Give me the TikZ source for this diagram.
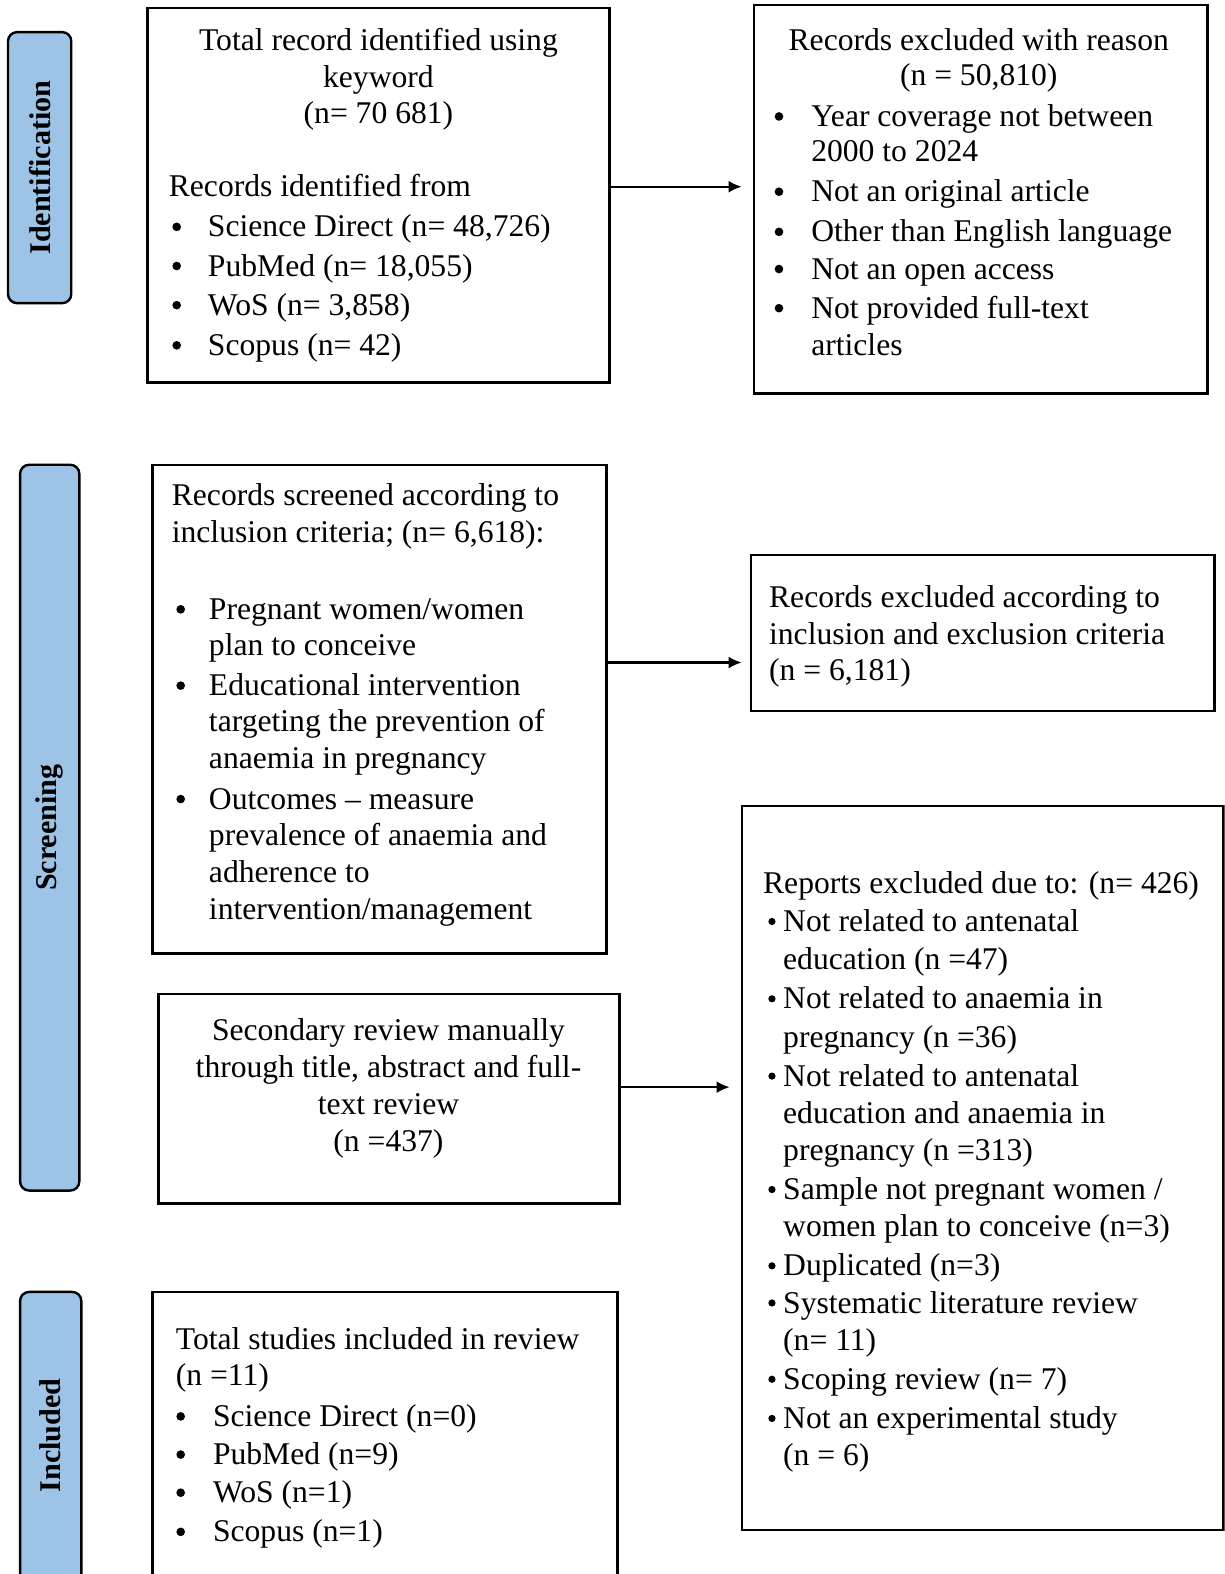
\documentclass[tikz,border=0pt]{standalone}
\usepackage{fontspec}
\setmainfont{Liberation Serif}
\usetikzlibrary{arrows.meta,fit}
\definecolor{phase}{HTML}{9DC3E6}
\newcounter{tn}
\newcommand\tl[4][txt]{\stepcounter{tn}\node[#1] (t\arabic{tn}) at (#2,#3) {#4};}
\newcommand\bu[3]{\fill (#1,#2) circle (#3pt);}
\begin{document}
\begin{tikzpicture}[x=1pt,y=-1pt,
 box/.style={draw, line width=2.4pt, inner sep=0pt},
 phasebox/.style={draw, line width=2.4pt, fill=phase, rounded corners=9pt, inner sep=0pt},
 txt/.style={anchor=base west, inner sep=0pt, font=\fontsize{31.5}{37}\selectfont},
 ctxt/.style={txt, anchor=base},
 plabel/.style={rotate=90, font=\fontsize{30}{36}\selectfont\bfseries, inner sep=0pt},
 arr/.style={line width=2.2pt, -{Latex[length=13pt,width=12pt]}}]
\useasboundingbox (0,0) rectangle (1220,1568);
\clip (0,0) rectangle (1220,1568);

% phase boxes
\node[phasebox, fit={(8,32) (71,302)}] (P1) {};
\node[plabel] (L1) at (P1.center) {Identification};
\node[phasebox, fit={(20,463) (79,1186)}] (P2) {};
\node[plabel] (L2) at (P2.center) {Screening};
\node[phasebox, fit={(20,1287) (81,1620)}] (P3) {};
\node[plabel] (L3) at (50.5,1430) {Included};

% Box A
\node[box, fit={(147,8) (607,381)}] (A) {};
\tl[ctxt]{377}{50}{Total record identified using}
\tl[ctxt]{377}{87}{keyword}
\tl[ctxt]{377}{123}{(n= 70 681)}
\tl{168}{196}{Records identified from}
\bu{176}{226}{4.3}\tl{207}{236}{Science Direct (n= 48,726)}
\bu{176}{265}{4.3}\tl{207}{275}{PubMed (n= 18,055)}
\bu{176}{304}{4.3}\tl{207}{314}{WoS (n= 3,858)}
\bu{176}{344}{4.3}\tl{207}{354}{Scopus (n= 42)}

% Box B
\node[box, fit={(751,5) (1203,392)}] (B) {};
\tl[ctxt]{975}{50}{Records excluded with reason}
\tl[ctxt]{975}{85}{(n = 50,810)}
\bu{776}{116}{4.3}\tl{808}{126}{Year coverage not between}
\tl{808}{161}{2000 to 2024}
\bu{776}{191}{4.3}\tl{808}{201}{Not an original article}
\bu{776}{231}{4.3}\tl{808}{241}{Other than English language}
\bu{776}{268}{4.3}\tl{808}{278}{Not an open access}
\bu{776}{307}{4.3}\tl{808}{317}{Not provided full-text}
\tl{808}{354}{articles}

% Box C
\node[box, fit={(152,463) (604,950)}] (C) {};
\tl{171}{504}{Records screened according to}
\tl{171}{540}{inclusion criteria; (n= 6,618):}
\bu{180}{607}{4.3}\tl{208}{617}{Pregnant women/women}
\tl{208}{653}{plan to conceive}
\bu{180}{683}{4.3}\tl{208}{693}{Educational intervention}
\tl{208}{729}{targeting the prevention of}
\tl{208}{766}{anaemia in pregnancy}
\bu{180}{796}{4.3}\tl{208}{806}{Outcomes \textendash{} measure}
\tl{208}{842}{prevalence of anaemia and}
\tl{208}{879}{adherence to}
\tl{208}{916}{intervention/management}

% Box D
\node[box, fit={(748,553) (1210,708)}] (D) {};
\tl{766}{605}{Records excluded according to}
\tl{766}{642}{inclusion and exclusion criteria}
\tl{766}{678}{(n = 6,181)}

% Box E
\node[box, fit={(158,990) (617,1199)}] (E) {};
\tl[ctxt]{387}{1037}{Secondary review manually}
\tl[ctxt]{387}{1073}{through title, abstract and full-}
\tl[ctxt]{387}{1110}{text review}
\tl[ctxt]{387}{1147}{(n =437)}

% Box F
\node[box, fit={(739,803) (1219,1524)}] (F) {};
\tl{760}{890}{Reports excluded due to: (n= 426)}
\bu{769}{918}{3.6}\tl{780}{928}{Not related to antenatal}
\tl{780}{966}{education (n =47)}
\bu{769}{995}{3.6}\tl{780}{1005}{Not related to anaemia in}
\tl{780}{1043}{pregnancy (n =36)}
\bu{769}{1072}{3.6}\tl{780}{1082}{Not related to antenatal}
\tl{780}{1119}{education and anaemia in}
\tl{780}{1156}{pregnancy (n =313)}
\bu{769}{1185}{3.6}\tl{780}{1195}{Sample not pregnant women /}
\tl{780}{1232}{women plan to conceive (n=3)}
\bu{769}{1261}{3.6}\tl{780}{1271}{Duplicated (n=3)}
\bu{769}{1298}{3.6}\tl{780}{1308}{Systematic literature review}
\tl{780}{1345}{(n= 11)}
\bu{769}{1374}{3.6}\tl{780}{1384}{Scoping review (n= 7)}
\bu{769}{1413}{3.6}\tl{780}{1423}{Not an experimental study}
\tl{780}{1460}{(n = 6)}

% Box G
\node[box, fit={(152,1287) (615,1620)}] (G) {};
\tl{175}{1344}{Total studies included in review}
\tl{175}{1380}{(n =11)}
\bu{180}{1411}{4.3}\tl{212}{1421}{Science Direct (n=0)}
\bu{180}{1449}{4.3}\tl{212}{1459}{PubMed (n=9)}
\bu{180}{1487}{4.3}\tl{212}{1497}{WoS (n=1)}
\bu{180}{1526}{4.3}\tl{212}{1536}{Scopus (n=1)}

% arrows
\coordinate (y1) at (0,186);
\coordinate (y2) at (0,660);
\coordinate (y3) at (0,1083);
\draw[arr, shorten >=11pt] (A.east |- y1) -- (B.west |- y1);
\draw[arr, shorten >=8pt] (C.east |- y2) -- (D.west |- y2);
\draw[arr, shorten >=11pt] (E.east |- y3) -- (F.west |- y3);
\end{tikzpicture}
\end{document}
